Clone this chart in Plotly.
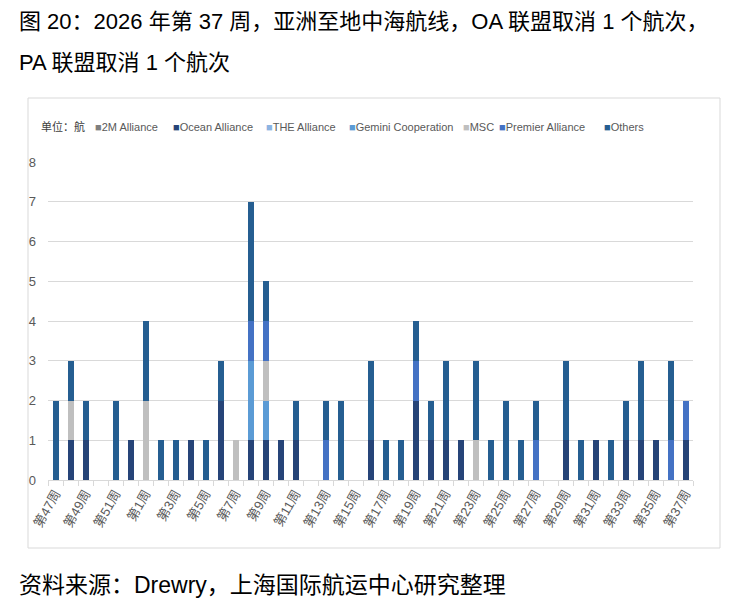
import plotly.graph_objects as go

# weeks: 2025 wk47-52, then 2026 wk1-37
weeks = [f"第{w}周" for w in list(range(47, 53)) + list(range(1, 38))]

alliance_2m = [0] * 43
ocean = [0, 1, 1, 0, 0, 1, 0, 0, 0, 1, 0, 2, 0, 1, 1, 1, 1, 0, 0, 0, 0, 1,
         0, 0, 2, 1, 1, 1, 0, 0, 0, 0, 0, 0, 1, 0, 1, 0, 1, 1, 1, 0, 1]
the_alliance = [0] * 43
gemini = [0, 0, 0, 0, 0, 0, 0, 0, 0, 0, 0, 0, 0, 2, 1, 0, 0, 0, 0, 0, 0, 0,
          0, 0, 0, 0, 0, 0, 0, 0, 0, 0, 0, 0, 0, 0, 0, 0, 0, 0, 0, 0, 0]
msc = [0, 1, 0, 0, 0, 0, 2, 0, 0, 0, 0, 0, 1, 0, 1, 0, 0, 0, 0, 0, 0, 0,
       0, 0, 0, 0, 0, 0, 1, 0, 0, 0, 0, 0, 0, 0, 0, 0, 0, 0, 0, 0, 0]
premier = [0, 0, 0, 0, 0, 0, 0, 0, 0, 0, 0, 0, 0, 1, 1, 0, 0, 0, 1, 0, 0, 0,
           0, 0, 1, 0, 0, 0, 0, 0, 0, 0, 1, 0, 0, 0, 0, 0, 0, 0, 0, 1, 1]
others = [2, 1, 1, 0, 2, 0, 2, 1, 1, 0, 1, 1, 0, 3, 1, 0, 1, 0, 1, 2, 0, 2,
          1, 1, 1, 1, 2, 0, 2, 1, 2, 1, 1, 0, 2, 1, 0, 1, 1, 2, 0, 2, 0]

series = [
    ("2M Alliance", alliance_2m, "#7f7f7f"),
    ("Ocean Alliance", ocean, "#264478"),
    ("THE Alliance", the_alliance, "#8db4e2"),
    ("Gemini Cooperation", gemini, "#5b9bd5"),
    ("MSC", msc, "#bfbfbf"),
    ("Premier Alliance", premier, "#4472c4"),
    ("Others", others, "#255e91"),
]
# left edge (page px) of each legend entry, as in the source chart
legend_x = [93, 171, 264, 347, 461, 497, 602]

tick_text = [w if i % 2 == 0 else "" for i, w in enumerate(weeks)]

fig = go.Figure()
for name, vals, color in series:
    fig.add_trace(go.Bar(x=weeks, y=vals, name=name, marker_color=color,
                         marker_line_width=0, showlegend=False))

# page pixel -> paper helpers (plot area 48..693 x, 162..480 y on the page)
def px(x):
    return (x - 48) / 645

def py(y):
    return (480 - y) / 318

annotations = [
    dict(text="图 20：2026 年第 37 周，亚洲至地中海航线，OA 联盟取消 1 个航次，",
         x=px(17), y=py(21), font=dict(size=22, color="black")),
    dict(text="PA 联盟取消 1 个航次",
         x=px(17), y=py(63), font=dict(size=22, color="black")),
    dict(text="单位：航", x=px(39), y=py(127), font=dict(size=11, color="#404040")),
    dict(text="资料来源：Drewry，上海国际航运中心研究整理",
         x=px(17), y=py(585), font=dict(size=23, color="black")),
]
# legend drawn as text entries so it stays on one tight row
for (name, vals, color), lx in zip(series, legend_x):
    annotations.append(dict(
        text=f"<span style='color:{color}'>■</span>{name}",
        x=px(lx), y=py(127),
        font=dict(size=11, color="#595959")))
for a in annotations:
    a.update(xref="paper", yref="paper", xanchor="left", yanchor="middle", showarrow=False)

# page body has an 8px margin, so the figure is 16px smaller than the window
fig.update_layout(
    width=722, height=590,
    margin=dict(l=40, r=37, t=154, b=118),
    paper_bgcolor="white", plot_bgcolor="white",
    barmode="stack", bargap=0.6,
    font=dict(family="Liberation Sans, Noto Sans CJK SC", color="#595959"),
    xaxis=dict(tickvals=weeks, ticktext=tick_text, tickangle=-60,
               tickson="boundaries", ticks="outside", ticklen=5, tickcolor="#d9d9d9",
               showline=True, linecolor="#d9d9d9", linewidth=1,
               tickfont=dict(size=13, color="#595959")),
    yaxis=dict(range=[0, 8], dtick=1, showgrid=True, gridcolor="#d9d9d9",
               zeroline=False, ticks="", ticklabelstandoff=11,
               tickfont=dict(size=13, color="#595959")),
    shapes=[dict(type="rect", xref="paper", yref="paper",
                 x0=px(28), x1=px(720), y0=py(548), y1=py(98),
                 line=dict(color="#d9d9d9", width=1), layer="below")],
    annotations=annotations,
)

fig.write_html("out.html")
